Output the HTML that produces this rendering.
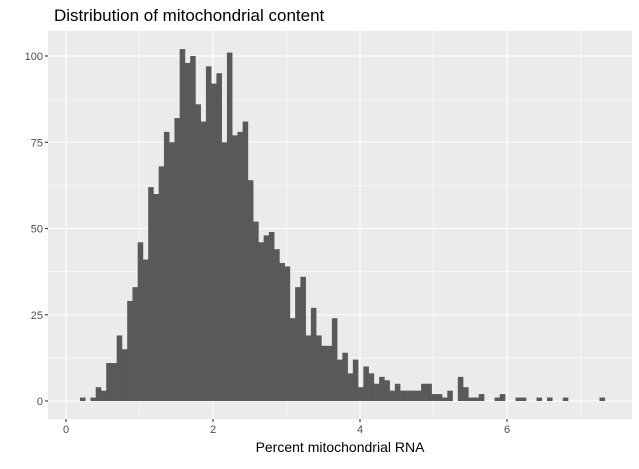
<!DOCTYPE html>
<html><head><meta charset="utf-8"><style>
body{margin:0;background:#fff;font-family:"Liberation Sans",sans-serif}
</style></head><body>
<svg width="639" height="464" xmlns="http://www.w3.org/2000/svg" id="chart" font-family="Liberation Sans, sans-serif"></svg>
<script>
const counts=[1,0,1,4,3,11,11,19,15,29,33,46,41,62,60,68,78,75,82,102,98,100,86,81,97,
92,95,75,101,77,78,81,64,52,46,48,49,44,40,39,24,33,36,19,27,19,16,16,24,12,14,8,
12,4,10,8,5,7,6,3,5,3,3,3,3,5,5,2,2,1,3,0,7,4,1,1,2,0,0,1,2,0,0,1,1,0,0,1,0,1,0,0,1,0,0,0,0,0,0,1];
const binStart=0.19;
const binWidth=0.0714;
const xTicks=[0,2,4,6];
const yTicks=[0,25,50,75,100];
const NS="http://www.w3.org/2000/svg";
const svg=document.getElementById('chart');
const L=48,R=632,T=31,B=419;
const xs=v=>66+v*73.5;
const ys=v=>401-v*3.45;
function mk(t,a,p){const e=document.createElementNS(NS,t);for(const k in a)e.setAttribute(k,a[k]);(p||svg).appendChild(e);return e;}
const bg=mk('rect',{x:L,y:T,width:R-L,height:B-T,fill:'#EBEBEB'});


[1,3,5,7].forEach(v=>{const g=mk('line',{x1:xs(v),x2:xs(v),y1:T,y2:B,stroke:'#fff','stroke-width':0.55});

});
[12.5,37.5,62.5,87.5].forEach(v=>{const g=mk('line',{x1:L,x2:R,y1:ys(v),y2:ys(v),stroke:'#fff','stroke-width':0.55});

});
xTicks.forEach(v=>{const g=mk('line',{x1:xs(v),x2:xs(v),y1:T,y2:B,stroke:'#fff','stroke-width':1.1});


const t=mk('line',{x1:xs(v),x2:xs(v),y1:B,y2:B+3,stroke:'#333','stroke-width':1.1});


const l=mk('text',{x:xs(v),y:B+14,'text-anchor':'middle','font-size':11,fill:'#4D4D4D'});l.textContent=v;

});
yTicks.forEach(v=>{const g=mk('line',{x1:L,x2:R,y1:ys(v),y2:ys(v),stroke:'#fff','stroke-width':1.1});


const t=mk('line',{x1:L-3,x2:L,y1:ys(v),y2:ys(v),stroke:'#333','stroke-width':1.1});


const l=mk('text',{x:L-5,y:ys(v)+4,'text-anchor':'end','font-size':11,fill:'#4D4D4D'});l.textContent=v;

});
counts.forEach((c,i)=>{if(c<=0)return;
const x0=xs(binStart+i*binWidth),x1=xs(binStart+(i+1)*binWidth);
const b=mk('rect',{x:x0,y:ys(c),width:x1-x0+0.3,height:ys(0)-ys(c),fill:'#595959'});

});
const ti=mk('text',{x:54,y:21,'font-size':17,fill:'#000'});ti.textContent='Distribution of mitochondrial content';


const xt=mk('text',{x:(L+R)/2,y:452,'text-anchor':'middle','font-size':14,fill:'#000'});xt.textContent='Percent mitochondrial RNA';


</script>
</body></html>
